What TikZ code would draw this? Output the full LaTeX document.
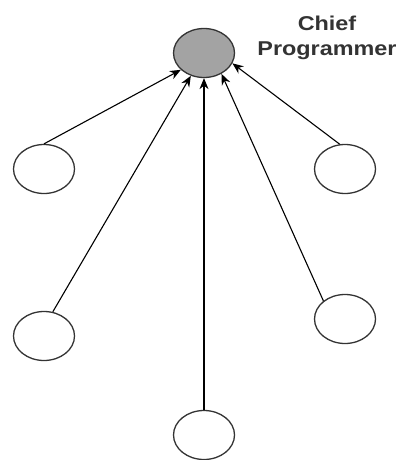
\documentclass[tikz,border=0pt]{standalone}
\usepackage{fontspec}
\setmainfont{Liberation Sans}
\usetikzlibrary{shapes.geometric,positioning,arrows.meta}
\definecolor{rim}{HTML}{333333}
\definecolor{chieffill}{HTML}{A3A3A3}
\tikzset{
member/.style={
  ellipse,
  draw=rim,
  line width=1.3pt,
  minimum width=61pt,
  minimum height=49pt,
  inner sep=0pt
  },
chief/.style={member, fill=chieffill},
report/.style={-{Stealth[length=11pt,width=9pt]}, line width=1.1pt, black}
}

\begin{document}
\begin{tikzpicture}[x=1pt,y=-1pt]
\useasboundingbox (0,0) rectangle (400,460);

\node[chief] (boss) at (204,53) {};
\node[font=\bfseries\fontsize{20}{25}\selectfont, text=rim, align=center,
      xscale=1.17, transform shape] (bossname) at (327,38) {Chief\\Programmer};

\node[member] (m1) at (44,169) {};
\node[member] (m2) at (345,169) {};
\node[member] (m3) at (44,336) {};
\node[member] (m4) at (345,319) {};
\node[member] (m5) at (204,435) {};

% everybody reports to the chief
\draw[report] (m1.north) -- (boss.216);
\draw[report] (m3.70) -- (boss.240);
\draw[report] (m5.north) -- (boss.south);
\draw[report] (m4.140) -- (boss.310);
\draw[report] (m2.102) -- (boss.340);

\end{tikzpicture}
\end{document}
